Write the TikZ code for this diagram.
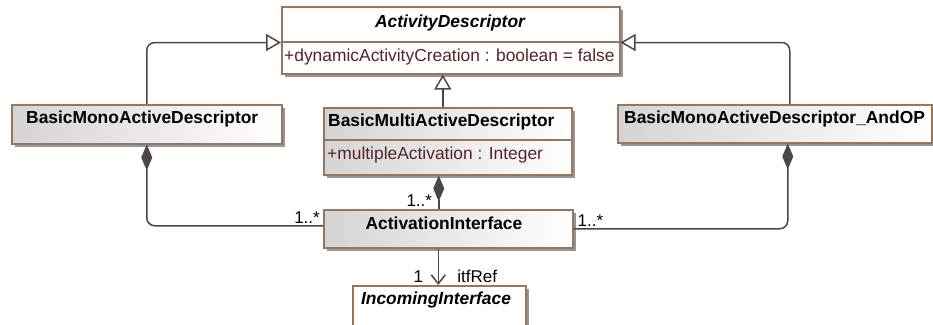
\documentclass[tikz,border=0pt]{standalone}
\usepackage{fontspec}
\setmainfont{Liberation Sans}
\usetikzlibrary{arrows.meta,shadows}
\definecolor{umlborder}{RGB}{150,118,92}
\definecolor{umlattr}{RGB}{86,36,36}
\definecolor{umlline}{RGB}{72,72,72}
\definecolor{umlshadow}{RGB}{150,150,150}
\definecolor{umlgrey}{RGB}{212,212,212}
\begin{document}
\begin{tikzpicture}[x=1pt, y=-1pt,
        umlbox/.style={rectangle, draw=umlborder, line width=1.5pt, inner sep=0pt, anchor=north west,
            drop shadow={shadow xshift=3.5pt, shadow yshift=-3.5pt, fill=umlshadow, opacity=1}},
        shadedbox/.style={umlbox, left color=umlgrey, right color=white},
        whitebox/.style={umlbox, fill=white},
        classname/.style={inner sep=0pt, font=\fontsize{17.4}{20}\selectfont\bfseries},
        abstractname/.style={inner sep=0pt, font=\fontsize{17.4}{20}\selectfont\bfseries\itshape},
        attribute/.style={inner sep=0pt, anchor=west, text=umlattr, font=\fontsize{17.4}{20}\selectfont},
        mult/.style={inner sep=1pt, font=\fontsize{17}{19}\selectfont},
        generalize/.style={draw=umlline, line width=1.5pt, rounded corners=8pt, -{Triangle[open, length=15pt, width=17pt]}},
        compose/.style={draw=umlline, line width=1.5pt, rounded corners=8pt, {Diamond[length=26pt, width=11pt]}-},
        navigate/.style={draw=umlline, line width=1.5pt, -{Straight Barb[length=9pt, width=14pt]}}
    ]
        \useasboundingbox (0,0) rectangle (933,324);

        % ActivityDescriptor
        \node[whitebox, minimum width=338, minimum height=35] (adname) at (281,6) {};
        \node[whitebox, minimum width=338, minimum height=32] (adattr) at (281,41) {};
        \node[abstractname] (adtxt) at (450,23) {ActivityDescriptor};
        \node[attribute] (adfield) at (284,57) {+dynamicActivityCreation : boolean = false};

        % BasicMonoActiveDescriptor
        \node[shadedbox, minimum width=270, minimum height=39] (bmono) at (11,104) {};
        \node[classname, anchor=west] (bmonotxt) at (26,119) {BasicMonoActiveDescriptor};

        % BasicMultiActiveDescriptor
        \node[shadedbox, minimum width=248, minimum height=32] (multiname) at (323,107) {};
        \node[shadedbox, minimum width=248, minimum height=35] (multiattr) at (323,139) {};
        \node[classname, anchor=west] (multitxt) at (328,122) {BasicMultiActiveDescriptor};
        \node[attribute] (multifield) at (327,155) {+multipleActivation : Integer};

        % BasicMonoActiveDescriptor_AndOP
        \node[shadedbox, minimum width=314, minimum height=38] (andop) at (617,104) {};
        \node[classname, anchor=west] (andoptxt) at (624,119) {BasicMonoActiveDescriptor\_AndOP};

        % ActivationInterface
        \node[shadedbox, minimum width=249, minimum height=38] (actif) at (323,209) {};
        \node[classname] (actiftxt) at (444,223) {ActivationInterface};

        % IncomingInterface
        \node[whitebox, minimum width=173, minimum height=50] (incoming) at (352,285) {};
        \node[abstractname] (incomingtxt) at (436,300) {IncomingInterface};

        % Generalizations
        \draw[generalize] (bmono.north) |- (adname.south west);
        \draw[generalize] ([xshift=15pt]andop.north) |- (adname.south east);
        \draw[generalize] ([xshift=-5pt]multiname.north) -- ([xshift=-5pt]multiname.north |- adattr.south);

        % Compositions
        \draw[compose] (bmono.south) |- ([yshift=3pt]actif.west);
        \draw[compose] ([xshift=-9pt]multiattr.south) -- ([xshift=-9pt]multiattr.south |- actif.north);
        \draw[compose] ([xshift=13pt]andop.south) |- (actif.east);

        % Navigable association
        \draw[navigate] ([xshift=-10pt]actif.south) -- ([xshift=-10pt]actif.south |- incoming.north);

        % Multiplicities
        \node[mult, anchor=south east] (mleft) at ([xshift=-2pt, yshift=4pt]actif.west) {1..*};
        \node[mult, anchor=south east] (mmid) at ([xshift=-15pt, yshift=1pt]actif.north) {1..*};
        \node[mult, anchor=south west] (mright) at ([xshift=3pt, yshift=1pt]actif.east) {1..*};
        \node[mult, anchor=south east] (mone) at ([xshift=-15pt, yshift=1pt]incoming.north) {1};
        \node[mult, anchor=south west] (mref) at ([xshift=17pt, yshift=1pt]incoming.north) {itfRef};
    \end{tikzpicture}
\end{document}
